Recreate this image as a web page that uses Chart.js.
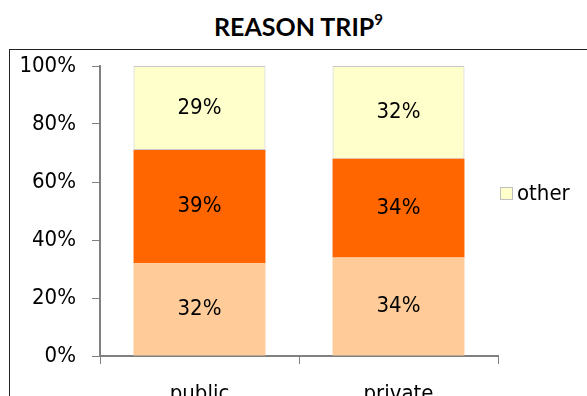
<!DOCTYPE html>
<html>
<head>
<meta charset="utf-8">
<script src="https://cdn.jsdelivr.net/npm/chart.js@4"></script>
<style>
body{margin:0;background:#fff;overflow:hidden;}
#wrap{position:relative;width:587px;height:396px;}
#title{position:absolute;left:5px;top:11px;width:587px;text-align:center;font:bold 25px Lato,"Open Sans",sans-serif;color:#000;}
#title sup{font-size:15px;position:relative;top:-2px;}
#frame{position:absolute;left:9px;top:49px;width:700px;height:500px;border:1px solid #222;box-sizing:border-box;}
canvas{position:absolute;left:0;top:0;}
</style>
</head>
<body>
<div id="wrap">
<div id="title">REASON TRIP<sup>9</sup></div>
<div id="frame"></div>
<canvas id="chart" width="587" height="396"></canvas>
</div>
<script>
const categories=["public","private"];
const seriesNames=["work","leisure","other"];
const workValues=[32,34];
const leisureValues=[39,34];
const otherValues=[29,32];
const yTicks=[0,20,40,60,80,100];

const labelFont="'DejaVu Sans Condensed', 'DejaVu Sans', sans-serif";

// values written in the middle of each stacked piece
const valueLabels={
    id:"valueLabels",
    afterDatasetsDraw(chart){
        const ctx=chart.ctx;
        ctx.save();
        ctx.font="22px "+labelFont;
        ctx.fillStyle="#000";
        ctx.textAlign="center";
        ctx.textBaseline="middle";
        chart.data.datasets.forEach((ds,i)=>{
            chart.getDatasetMeta(i).data.forEach((bar,j)=>{
                const p=bar.getProps(["x","y","base"],true);
                ctx.fillText(ds.data[j]+"%",p.x,(p.y+p.base)/2);
            });
        });
        ctx.restore();
    }
};

// only the "other" entry shows in the legend
const sideLegend={
    id:"sideLegend",
    afterDraw(chart){
        const ds=chart.data.datasets[2];
        const ctx=chart.ctx;
        const x=chart.chartArea.right+2, y=194;
        ctx.save();
        ctx.fillStyle=ds.backgroundColor;
        ctx.fillRect(x+0.5,y-6.5,12,12);
        ctx.strokeStyle="#c0c0c0";
        ctx.lineWidth=1;
        ctx.strokeRect(x+0.5,y-6.5,12,12);
        ctx.font="22px "+labelFont;
        ctx.fillStyle="#000";
        ctx.textBaseline="middle";
        ctx.fillText(ds.label,x+17,y);
        ctx.restore();
    }
};

new Chart(document.getElementById("chart"),{
    type:"bar",
    data:{
        labels:categories,
        datasets:[
            {label:seriesNames[0],data:workValues,backgroundColor:"#FFCC99",borderWidth:0},
            {label:seriesNames[1],data:leisureValues,backgroundColor:"#FF6600",borderWidth:0},
            {label:seriesNames[2],data:otherValues,backgroundColor:"#FFFFCC",borderColor:"#c8c8c8",borderWidth:1,borderSkipped:false}
        ]
    },
    options:{
        responsive:false,
        animation:false,
        layout:{padding:{top:66,right:89,left:0,bottom:0}},
        datasets:{bar:{barPercentage:0.663,categoryPercentage:1}},
        plugins:{legend:{display:false},tooltip:{enabled:false}},
        scales:{
            x:{
                stacked:true,
                grid:{drawOnChartArea:false,color:"#808080",tickLength:8,offset:true},
                border:{color:"#808080",width:2},
                ticks:{color:"#000",font:{family:labelFont,size:22},padding:17},
                afterFit(s){s.height=40;}
            },
            y:{
                stacked:true,
                min:0,max:100,
                afterBuildTicks(s){s.ticks=yTicks.map(v=>({value:v}));},
                grid:{drawOnChartArea:false,color:"#808080",tickLength:8},
                border:{color:"#808080",width:2},
                ticks:{color:"#000",font:{family:labelFont,size:22},padding:16,callback:v=>v+"%"},
                afterFit(s){s.width=100;}
            }
        }
    },
    plugins:[valueLabels,sideLegend]
});
</script>
</body>
</html>
